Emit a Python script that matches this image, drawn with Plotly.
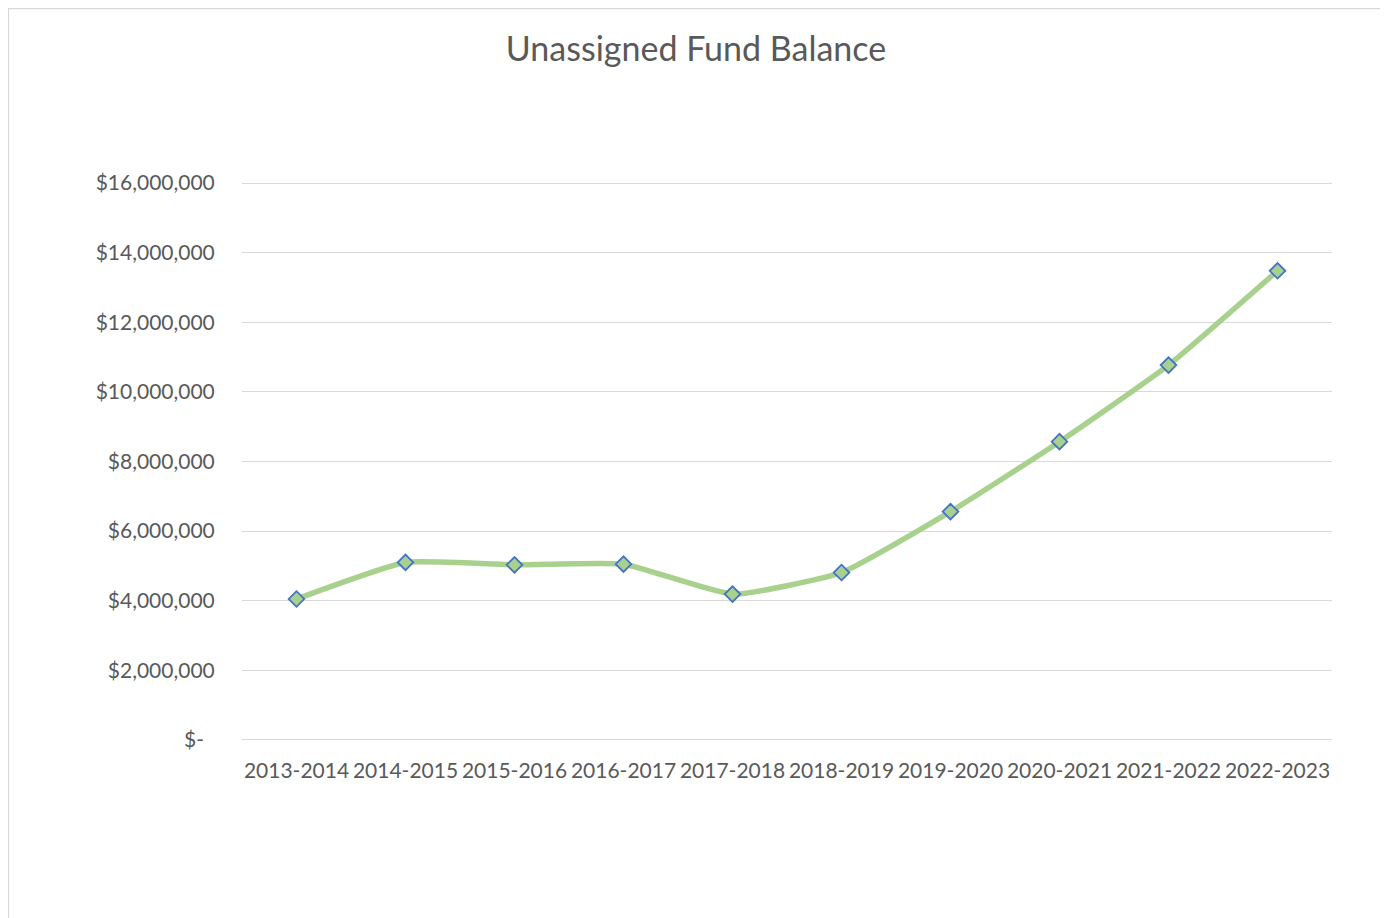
import plotly.graph_objects as go

years = ["2013-2014", "2014-2015", "2015-2016", "2016-2017", "2017-2018",
         "2018-2019", "2019-2020", "2020-2021", "2021-2022", "2022-2023"]
balance = [4050000, 5100000, 5030000, 5050000, 4190000,
           4810000, 6560000, 8570000, 10770000, 13480000]
tick_vals = [0, 2000000, 4000000, 6000000, 8000000, 10000000, 12000000, 14000000, 16000000]
tick_text = ["$-\u00a0\u00a0", "$2,000,000", "$4,000,000", "$6,000,000", "$8,000,000",
             "$10,000,000", "$12,000,000", "$14,000,000", "$16,000,000"]

W, H = 1388, 918
OFF = 8  # page body margin
# target positions in page pixels
X_LEFT, X_RIGHT = 242, 1332
Y_ZERO, Y_TOP = 740, 183
YMAX = 16000000
pad_val = 60000
ppu = (Y_ZERO - Y_TOP) / YMAX
pad_px = pad_val * ppu

L = X_LEFT - OFF
PW = X_RIGHT - X_LEFT
R = W - L - PW
T = round(Y_TOP - OFF - pad_px)
PH = round((Y_ZERO - Y_TOP) + 2 * pad_px)
B = H - T - PH

def fx(x_page):
    return (x_page - OFF - L) / PW

def fy(y_page):
    return (H - B - (y_page - OFF)) / PH

FONT = "Lato, Carlito, 'Open Sans', sans-serif"

fig = go.Figure()
fig.add_trace(go.Scatter(
    x=years, y=balance, mode="lines+markers",
    line=dict(color="#A9D18E", width=5.5, shape="spline", smoothing=0.45),
    marker=dict(symbol="diamond", size=12, color="#A9D18E",
                line=dict(color="#4472C4", width=1.8)),
    showlegend=False, hoverinfo="x+y"))

fig.update_layout(
    width=W, height=H,
    margin=dict(l=L, r=R, t=T, b=B, pad=0),
    paper_bgcolor="white", plot_bgcolor="white",
    title=dict(text="Unassigned Fund Balance", x=(696 - OFF) / W, xref="container",
               xanchor="center", y=1 - (49 - OFF) / H, yanchor="middle",
               font=dict(family=FONT, size=34, color="#595959")),
    xaxis=dict(type="category", range=[-0.5, 9.5], showgrid=False, zeroline=False,
               showline=False, ticks="outside", ticklen=10, tickcolor="rgba(0,0,0,0)",
               tickfont=dict(family=FONT, size=21, color="#595959")),
    yaxis=dict(range=[-pad_val, YMAX + pad_val], tickvals=tick_vals, ticktext=tick_text,
               showgrid=True, gridcolor="#D9D9D9", gridwidth=1.3, zeroline=False,
               showline=False, ticks="outside", ticklen=22, tickcolor="rgba(0,0,0,0)",
               tickfont=dict(family=FONT, size=21, color="#595959")),
    shapes=[dict(type="rect", xref="paper", yref="paper",
                 x0=fx(8.5), x1=fx(1383), y0=fy(940), y1=fy(8.5),
                 line=dict(color="#D9D9D9", width=1.3), fillcolor="rgba(0,0,0,0)",
                 layer="below")],
)

fig.write_html("out.html")
